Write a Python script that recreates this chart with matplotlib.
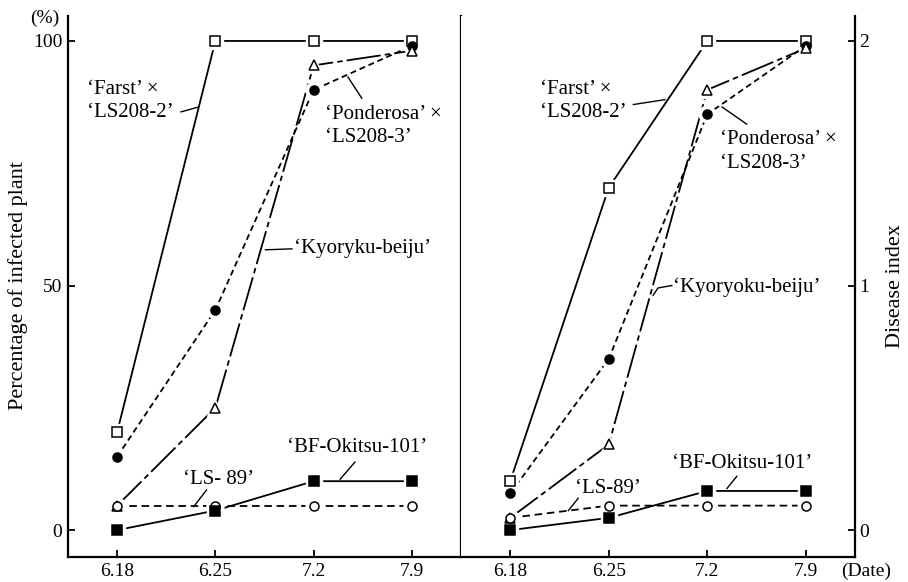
import matplotlib
matplotlib.use("Agg")
import matplotlib.pyplot as plt

plt.rcParams['font.family'] = ['Liberation Serif', 'DejaVu Serif']

dates = ["6.18", "6.25", "7.2", "7.9"]

# left panel: percentage of infected plant (%)
pct_farst = [20, 100, 100, 100]
pct_ponderosa = [15, 45, 90, 99]
pct_kyoryoku = [5, 25, 95, 98]
pct_ls89 = [5, 5, 5, 5]
pct_bf = [0, 4, 10, 10]

# right panel: disease index
idx_farst = [0.2, 1.4, 2.0, 2.0]
idx_ponderosa = [0.15, 0.7, 1.7, 1.98]
idx_kyoryoku = [0.05, 0.35, 1.8, 1.97]
idx_ls89 = [0.05, 0.1, 0.1, 0.1]
idx_bf = [0.0, 0.05, 0.16, 0.16]

x = list(range(len(dates)))
lw = 1.3
styles = [
    # (marker, face, linestyle)
    ("s", "white", "-"),
    ("o", "black", (0, (3.3, 2.1))),
    ("^", "white", (0, (19, 2.3, 3, 2.3))),
    ("o", "white", (0, (4.2, 2.6))),
    ("s", "black", "-"),
]

fig = plt.figure(figsize=(9.08, 5.82), dpi=100)
bottom = 25 / 582
height = (557 - 16) / 582
ax1 = fig.add_axes([68 / 908, bottom, 393 / 908, height])
ax2 = fig.add_axes([461 / 908, bottom, 394 / 908, height])


def draw(ax, series):
    for ys, (m, fc, ls) in zip(series, styles):
        ax.plot(x, ys, color="black", lw=lw, ls=ls, zorder=2)
        ax.plot(x, ys, ls="none", marker=m, ms=12, mfc="white", mec="white",
                zorder=3)
    for ys, (m, fc, ls) in zip(series, styles):
        ms = 7 if m == "^" else 6.5
        ax.plot(x, ys, ls="none", marker=m, ms=ms, mfc=fc, mec="black",
                mew=1.1, zorder=4)


draw(ax1, [pct_farst, pct_ponderosa, pct_kyoryoku, pct_ls89, pct_bf])
draw(ax2, [idx_farst, idx_ponderosa, idx_kyoryoku, idx_ls89, idx_bf])

for ax in (ax1, ax2):
    ax.set_xlim(-0.5, 3.5)
    ax.set_xticks(x)
    ax.set_xticklabels(dates)
    ax.spines["top"].set_visible(False)
    for s in ax.spines.values():
        s.set_linewidth(1.6)
    ax.tick_params(axis="both", direction="in", length=5, width=1.3,
                   labelsize=14, pad=4)

ax1.set_ylim(-5.5, 105.1)
ax1.set_yticks([0, 50, 100])
ax1.yaxis.set_ticks_position("left")
ax1.tick_params(axis="y", pad=4)

ax2.set_ylim(-0.11, 2.102)
ax2.set_yticks([0, 1, 2])
ax2.spines["left"].set_visible(False)
ax2.yaxis.set_ticks_position("right")
ax2.tick_params(axis="y", pad=3)

fig.text(18 / 908, 1 - 286 / 582, "Percentage of infected plant", fontsize=16,
         rotation=90, ha="center", va="center")
fig.text(896 / 908, 1 - 286 / 582, "Disease index", fontsize=16,
         rotation=90, ha="center", va="center")
fig.text(45 / 908, 1 - 18 / 582, "(%)", fontsize=14, ha="center", va="center")
fig.text(866 / 908, 1 - 571 / 582, "(Date)", fontsize=14, ha="center",
         va="center")

fs = 15
ls_text = 1.3
# left panel annotations
ax1.text(-0.31, 87.7, "‘Farst’ ×\n‘LS208-2’", fontsize=fs, va="center",
         linespacing=ls_text)
ax1.plot([0.65, 0.83], [85.5, 86.5], color="black", lw=1)
ax1.text(2.12, 82.6, "‘Ponderosa’ ×\n‘LS208-3’", fontsize=fs, va="center",
         linespacing=ls_text)
ax1.plot([2.49, 2.35], [88.3, 92.6], color="black", lw=1)
ax1.text(1.80, 57.7, "‘Kyoryku-beiju’", fontsize=fs, va="center")
ax1.plot([1.51, 1.78], [57.3, 57.5], color="black", lw=1)
ax1.text(0.67, 10.4, "‘LS- 89’", fontsize=fs, va="center")
ax1.plot([0.91, 0.78], [8.2, 4.8], color="black", lw=1)
ax1.text(1.73, 16.8, "‘BF-Okitsu-101’", fontsize=fs, va="center")
ax1.plot([2.42, 2.27], [13.9, 10.4], color="black", lw=1)

# right panel annotations
ax2.text(0.30, 1.755, "‘Farst’ ×\n‘LS208-2’", fontsize=fs, va="center",
         linespacing=ls_text)
ax2.plot([1.25, 1.57], [1.74, 1.76], color="black", lw=1)
ax2.text(2.13, 1.548, "‘Ponderosa’ ×\n‘LS208-3’", fontsize=fs, va="center",
         linespacing=ls_text)
ax2.plot([2.40, 2.15], [1.66, 1.73], color="black", lw=1)
ax2.text(1.65, 0.994, "‘Kyoryoku-beiju’", fontsize=fs, va="center")
ax2.plot([1.45, 1.50, 1.64], [0.96, 0.99, 1.0], color="black", lw=1)
ax2.text(0.66, 0.172, "‘LS-89’", fontsize=fs, va="center")
ax2.plot([0.69, 0.59], [0.13, 0.08], color="black", lw=1)
ax2.text(1.64, 0.274, "‘BF-Okitsu-101’", fontsize=fs, va="center")
ax2.plot([2.30, 2.20], [0.22, 0.17], color="black", lw=1)

fig.savefig("out.png", dpi=100)
